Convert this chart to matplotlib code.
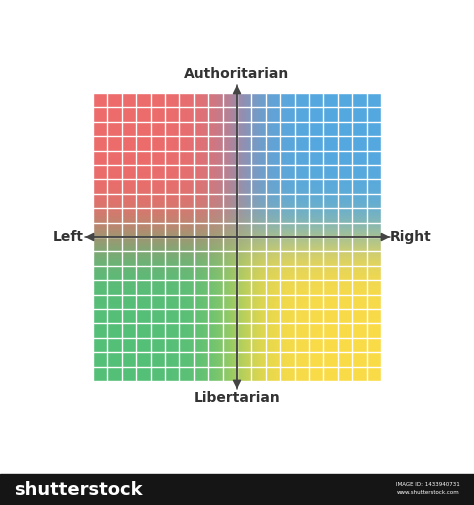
import numpy as np
import matplotlib
matplotlib.use("Agg")
import matplotlib.pyplot as plt
from matplotlib.patches import FancyArrowPatch, Rectangle

# Data
quadrant_names = ["Authoritarian Left", "Authoritarian Right", "Libertarian Left", "Libertarian Right"]
quadrant_colors = {"TL": (0.93, 0.42, 0.42), "TR": (0.33, 0.66, 0.88),
                   "BL": (0.33, 0.75, 0.47), "BR": (0.98, 0.86, 0.28)}
axis_labels = ["Authoritarian", "Libertarian", "Left", "Right"]
n_cells = 20

fig = plt.figure(figsize=(4.74, 5.05), dpi=100)
ax = fig.add_axes([0, 0, 1, 1])
ax.set_xlim(0, 474); ax.set_ylim(505, 0); ax.axis("off")

x0, x1, y0, y1 = 93, 381, 93, 381
N = 300
u = np.linspace(-1, 1, N)
X, Y = np.meshgrid(u, u)
sx = 1 / (1 + np.exp(-X * 9))  # right weight
sy = 1 / (1 + np.exp(-Y * 9))  # bottom weight
c = lambda k: np.array(quadrant_colors[k])
img = ((1 - sx)[..., None] * (1 - sy)[..., None] * c("TL") + sx[..., None] * (1 - sy)[..., None] * c("TR")
       + (1 - sx)[..., None] * sy[..., None] * c("BL") + sx[..., None] * sy[..., None] * c("BR"))
ax.imshow(img, extent=(x0, x1, y1, y0), interpolation="bilinear", zorder=1)
for g in np.linspace(x0, x1, n_cells + 1):
    ax.plot([g, g], [y0, y1], color="white", lw=1.0, zorder=2)
for g in np.linspace(y0, y1, n_cells + 1):
    ax.plot([x0, x1], [g, g], color="white", lw=1.0, zorder=2)

cx, cy = (x0 + x1) / 2, (y0 + y1) / 2
for (a, b) in [((85, cy), (390, cy)), ((390, cy), (85, cy)), ((cx, 85), (cx, 389)), ((cx, 389), (cx, 85))]:
    ax.add_patch(FancyArrowPatch(a, b, arrowstyle="-|>,head_length=5,head_width=2.5",
                                 color="#444444", lw=1.1, zorder=3, shrinkA=0, shrinkB=0))

fs = 10
ax.text(cx, 74, axis_labels[0], ha="center", va="center", fontsize=fs, fontweight="bold", color="#333333")
ax.text(cx, 398, axis_labels[1], ha="center", va="center", fontsize=fs, fontweight="bold", color="#333333")
ax.text(68, cy, axis_labels[2], ha="center", va="center", fontsize=fs, fontweight="bold", color="#333333")
ax.text(411, cy, axis_labels[3], ha="center", va="center", fontsize=fs, fontweight="bold", color="#333333")

ax.add_patch(Rectangle((0, 474), 474, 31, color="#151515", zorder=4))
ax.text(14, 490, "shutterstock", color="white", fontsize=13, fontweight="bold", va="center", zorder=5)
ax.text(460, 485, "IMAGE ID: 1433940731", color="white", fontsize=4, ha="right", va="center", zorder=5)
ax.text(460, 493, "www.shutterstock.com", color="white", fontsize=4, ha="right", va="center", zorder=5)

fig.savefig("out.png", dpi=100)
